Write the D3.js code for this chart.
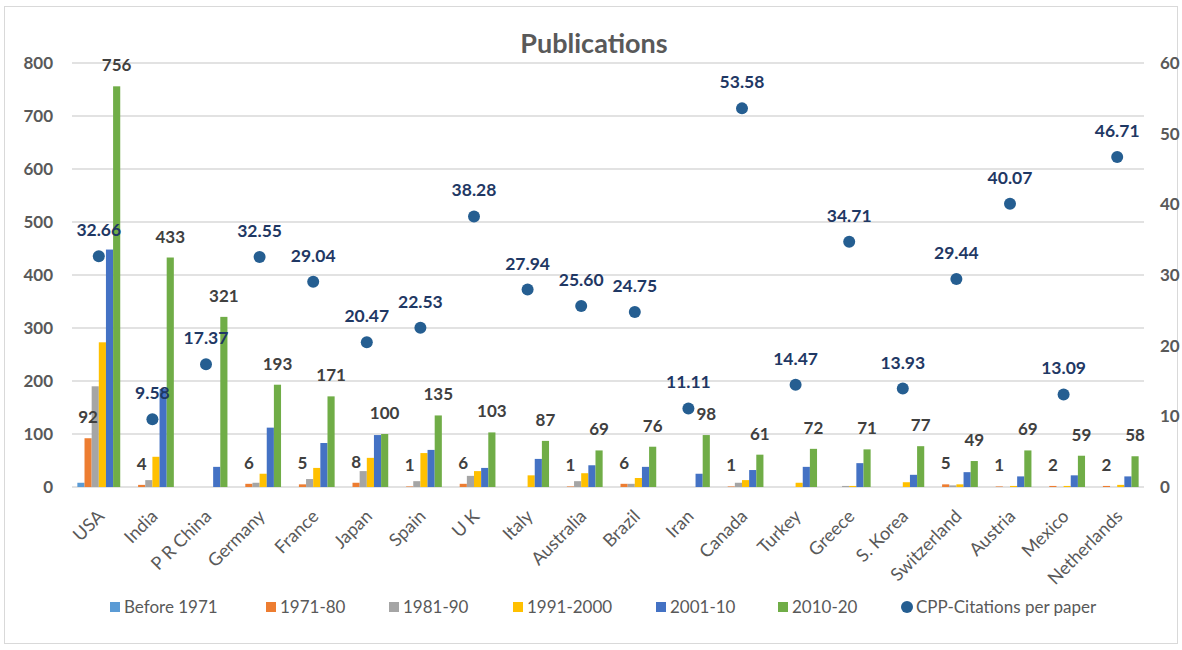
<!DOCTYPE html>
<html>
<head>
<meta charset="utf-8">
<script src="https://cdn.jsdelivr.net/npm/d3@7"></script>
<style>
  body { margin: 0; background: #fff; }
  text { font-family: Lato, "Open Sans", sans-serif; }
</style>
</head>
<body>
<script>
const countries = ["USA","India","P R China","Germany","France","Japan","Spain","U K","Italy","Australia",
  "Brazil","Iran","Canada","Turkey","Greece","S. Korea","Switzerland","Austria","Mexico","Netherlands"];
const seriesNames = ["Before 1971","1971-80","1981-90","1991-2000","2001-10","2010-20"];
const seriesColors = ["#5B9BD5","#ED7D31","#A5A5A5","#FFC000","#4472C4","#70AD47"];

const before1971 = [8,0,0,0,0,0,0,0,0,0,0,0,0,0,0,0,0,0,0,0];
const y1971_80  = [92,4,null,6,5,8,1,6,null,1,6,null,1,null,null,null,5,1,2,2];
const y1981_90  = [190,13,0,8,15,30,11,21,0,11,6,0,8,0,2,0,3,0,0,0];
const y1991_00  = [273,57,0,25,36,55,64,30,22,26,17,0,13,8,2,9,5,2,2,4];
const y2001_10  = [448,185,38,112,83,98,70,36,53,41,38,25,32,38,45,23,28,20,22,20];
const y2010_20  = [756,433,321,193,171,100,135,103,87,69,76,98,61,72,71,77,49,69,59,58];
const cpp = [32.66,9.58,17.37,32.55,29.04,20.47,22.53,38.28,27.94,25.60,
  24.75,11.11,53.58,14.47,34.71,13.93,29.44,40.07,13.09,46.71];

const leftTicks = [0,100,200,300,400,500,600,700,800];
const rightTicks = [0,10,20,30,40,50,60];

const W = 1182, H = 650;
const margin = {top: 63, left: 72, right: 38, bottom: 163};
const width = W - margin.left - margin.right;
const height = H - margin.top - margin.bottom;

const svg = d3.select("body").append("svg")
  .attr("width", W).attr("height", H);

svg.append("rect")
  .attr("x", 4.5).attr("y", 6.5).attr("width", 1173).attr("height", 637)
  .attr("fill", "#fff").attr("stroke", "#D9D9D9");

svg.append("text")
  .attr("x", 594).attr("y", 53)
  .attr("text-anchor", "middle")
  .attr("font-size", 27).attr("font-weight", "bold").attr("fill", "#595959")
  .text("Publications");

const chart = svg.append("g")
  .attr("transform", "translate(" + margin.left + "," + margin.top + ")");

const x = d3.scaleBand().domain(countries).range([0, width]).paddingInner(0.2).paddingOuter(0.1);
const xs = d3.scaleBand().domain(seriesNames).range([0, x.bandwidth()]);
const y = d3.scaleLinear().domain([0, 800]).range([height, 0]);
const y2 = d3.scaleLinear().domain([0, 60]).range([height, 0]);

// grid
chart.append("g")
  .selectAll("line").data(leftTicks).enter().append("line")
  .attr("x1", 0).attr("x2", width)
  .attr("y1", d => y(d)).attr("y2", d => y(d))
  .attr("stroke", "#D9D9D9").attr("stroke-width", 1.5);

// axes
const yAxis = chart.append("g")
  .call(d3.axisLeft(y).tickValues(leftTicks).tickSize(0).tickPadding(19));
const yAxis2 = chart.append("g")
  .attr("transform", "translate(" + width + ",0)")
  .call(d3.axisRight(y2).tickValues(rightTicks).tickSize(0).tickPadding(16));
[yAxis, yAxis2].forEach(a => {
  a.select(".domain").remove();
  a.selectAll("text").attr("font-size", 17).attr("font-weight", "bold")
    .attr("fill", "#595959").attr("font-family", "Lato, sans-serif");
});

const xAxis = chart.append("g")
  .attr("transform", "translate(0," + height + ")")
  .call(d3.axisBottom(x).tickSize(0));
xAxis.select(".domain").remove();
xAxis.selectAll("text")
  .attr("font-size", 18).attr("fill", "#595959").attr("font-family", "Lato, sans-serif")
  .attr("text-anchor", "end")
  .attr("transform", "translate(2,26) rotate(-45)")
  .attr("dy", "0.35em").attr("y", 0);

// bars
const seriesData = [before1971, y1971_80, y1981_90, y1991_00, y2001_10, y2010_20];
seriesData.forEach((vals, si) => {
  chart.append("g").selectAll("rect")
    .data(vals.map((v, i) => ({c: countries[i], v: v || 0})))
    .enter().append("rect")
    .attr("x", d => x(d.c) + xs(seriesNames[si]))
    .attr("width", xs.bandwidth())
    .attr("y", d => y(d.v))
    .attr("height", d => height - y(d.v))
    .attr("fill", seriesColors[si]);
});

// labels for 1971-80 and 2010-20
[[1, y1971_80], [5, y2010_20]].forEach(([si, vals]) => {
  chart.append("g").selectAll("text")
    .data(vals.map((v, i) => ({c: countries[i], v: v})).filter(d => d.v != null))
    .enter().append("text")
    .attr("x", d => x(d.c) + xs(seriesNames[si]) + xs.bandwidth() / 2)
    .attr("y", d => y(d.v) - 15)
    .attr("text-anchor", "middle")
    .attr("font-size", 17).attr("font-weight", "bold").attr("fill", "#404040")
    .text(d => d.v);
});

// CPP points
const pts = cpp.map((v, i) => ({c: countries[i], v: v}));
chart.append("g").selectAll("circle")
  .data(pts).enter().append("circle")
  .attr("cx", d => x(d.c) + x.bandwidth() / 2)
  .attr("cy", d => y2(d.v))
  .attr("r", 6)
  .attr("fill", "#255E91");
chart.append("g").selectAll("text")
  .data(pts).enter().append("text")
  .attr("x", d => x(d.c) + x.bandwidth() / 2)
  .attr("y", d => y2(d.v) - 20)
  .attr("text-anchor", "middle")
  .attr("font-size", 17.5).attr("font-weight", "bold").attr("fill", "#1F3864")
  .text(d => d.v.toFixed(2));

// legend
const legendX = [110, 266, 389, 513, 656, 778];
const legend = svg.append("g");
seriesNames.forEach((s, i) => {
  legend.append("rect")
    .attr("x", legendX[i]).attr("y", 602).attr("width", 10).attr("height", 10)
    .attr("fill", seriesColors[i]);
  legend.append("text")
    .attr("x", legendX[i] + 14).attr("y", 607).attr("dy", "0.35em")
    .attr("font-size", 17).attr("fill", "#595959")
    .text(s);
});
legend.append("circle").attr("cx", 907).attr("cy", 607).attr("r", 6).attr("fill", "#255E91");
legend.append("text")
  .attr("x", 916).attr("y", 607).attr("dy", "0.35em")
  .attr("font-size", 17).attr("fill", "#595959")
  .text("CPP-Citations per paper");
</script>
</body>
</html>
